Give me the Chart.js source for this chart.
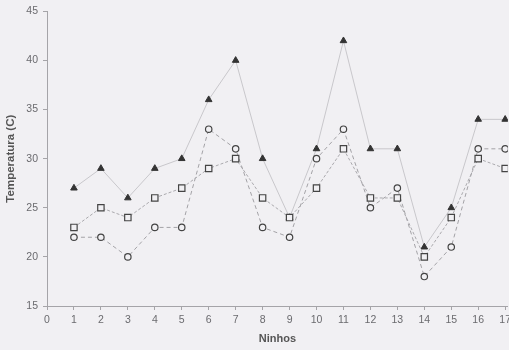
<!DOCTYPE html>
<html>
<head>
<meta charset="utf-8">
<script src="https://cdn.jsdelivr.net/npm/chart.js@4"></script>
<style>
  html, body { margin: 0; padding: 0; background: #f1f0f3; overflow: hidden; }
  /* um pouco mais largo que a janela: o eixo x continua além da borda, como no original */
  #wrap { width: 515px; height: 350px; position: relative; }
</style>
</head>
<body>
<div id="wrap"><canvas id="myChart"></canvas></div>
<script>
// ninhos 1..17
let ninhos = [1, 2, 3, 4, 5, 6, 7, 8, 9, 10, 11, 12, 13, 14, 15, 16, 17];
let triangulos = [27, 29, 26, 29, 30, 36, 40, 30, 24, 31, 42, 31, 31, 21, 25, 34, 34];
let quadrados = [23, 25, 24, 26, 27, 29, 30, 26, 24, 27, 31, 26, 26, 20, 24, 30, 29];
let circulos = [22, 22, 20, 23, 23, 33, 31, 23, 22, 30, 33, 25, 27, 18, 21, 31, 31];

function pts(v) { // junta x e y
  let r = [];
  for (let i = 0; i < ninhos.length; i++) r.push({x: ninhos[i], y: v[i]});
  return r;
}

let datasets = [
  {
    data: pts(triangulos),
    order: 3,
    showLine: true,
    borderColor: '#c8c7cb',
    borderWidth: 1,
    pointStyle: 'triangle',
    pointRadius: 3.8,
    pointBackgroundColor: '#333',
    pointBorderColor: '#333',
    pointBorderWidth: 1
  },
  {
    data: pts(quadrados),
    order: 1,
    showLine: true,
    borderColor: '#aaa9ad',
    borderWidth: 1,
    borderDash: [3, 2],
    pointStyle: 'rect',
    pointRadius: 4.5,
    pointBackgroundColor: '#f1f0f3',
    pointBorderColor: '#444',
    pointBorderWidth: 1.2
  },
  {
    data: pts(circulos),
    order: 2,
    showLine: true,
    borderColor: '#a3a2a6',
    borderWidth: 1,
    borderDash: [4, 3],
    pointStyle: 'circle',
    pointRadius: 3.2,
    pointBackgroundColor: '#f1f0f3',
    pointBorderColor: '#444',
    pointBorderWidth: 1.2
  }
];

const config = {
  type: 'scatter',
  data: { datasets: datasets },
  options: {
    responsive: true,
    maintainAspectRatio: false,
    animation: false,
    layout: { autoPadding: false, padding: { top: 11, right: 0, left: 0, bottom: 0 } },
    plugins: { legend: { display: false }, tooltip: { enabled: false } },
    scales: {
      x: {
        type: 'linear',
        bounds: 'data',
        min: 0,
        max: 17.1,
        ticks: {
          stepSize: 1,
          includeBounds: false,
          color: '#6a6a6e',
          font: { family: 'Liberation Sans', size: 10.5 },
          padding: 4,
          maxRotation: 0
        },
        grid: { drawOnChartArea: false, drawTicks: true, tickLength: 4, color: '#a5a4a8' },
        border: { display: true, color: '#a5a4a8' },
        title: {
          display: true,
          text: 'Ninhos',
          color: '#555',
          font: { family: 'Liberation Sans', size: 11, weight: 'bold' },
          padding: { top: 4 }
        },
        afterFit: function (s) { s.height = 44; }
      },
      y: {
        min: 15,
        max: 45,
        ticks: {
          stepSize: 5,
          color: '#6a6a6e',
          font: { family: 'Liberation Sans', size: 10.5 },
          padding: 5
        },
        grid: { drawOnChartArea: false, drawTicks: true, tickLength: 4, color: '#a5a4a8' },
        border: { display: true, color: '#a5a4a8' },
        title: {
          display: true,
          text: 'Temperatura (C)',
          color: '#555',
          font: { family: 'Liberation Sans', size: 11.5, weight: 'bold' },
          padding: { bottom: 2 }
        },
        afterFit: function (s) { s.width = 47; }
      }
    }
  }
};

const myChart = new Chart(document.getElementById('myChart'), config);
</script>
</body>
</html>
